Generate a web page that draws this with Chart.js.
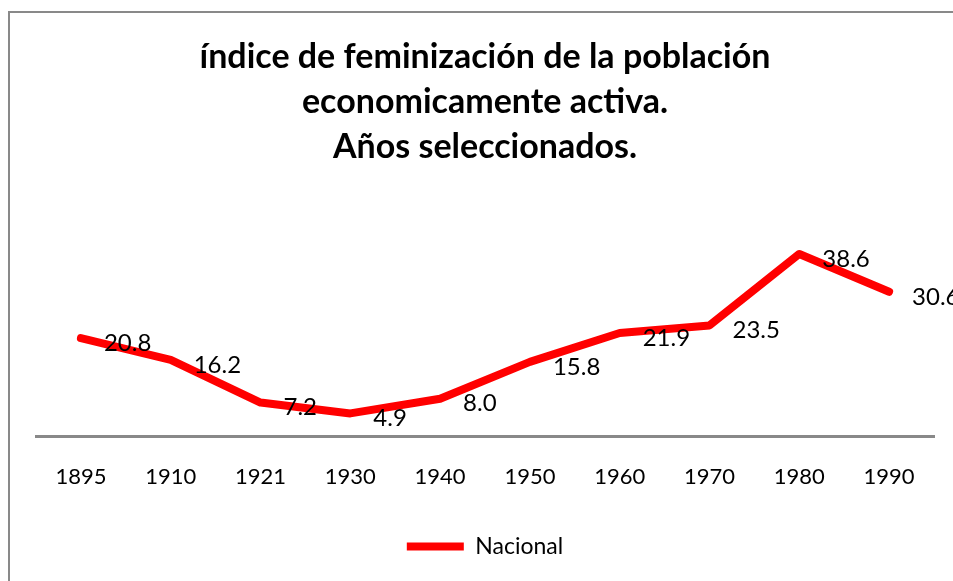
<!DOCTYPE html>
<html>
<head>
<meta charset="utf-8">
<script src="https://cdn.jsdelivr.net/npm/chart.js@4.4.1/dist/chart.umd.min.js"></script>
<style>
  html, body { margin: 0; padding: 0; background: #fff; overflow: hidden; }
  #wrap { position: relative; width: 953px; height: 581px; }
  #frame { position: absolute; left: 8px; top: 11px; width: 1000px; height: 700px; border: 2px solid #898989; box-sizing: border-box; }
  #chart { position: absolute; left: 0; top: 0; }
</style>
</head>
<body>
<div id="wrap">
  <div id="frame"></div>
  <canvas id="chart" width="953" height="581"></canvas>
</div>
<script>
const years = ['1895', '1910', '1921', '1930', '1940', '1950', '1960', '1970', '1980', '1990'];
const nacional = [20.8, 16.2, 7.2, 4.9, 8.0, 15.8, 21.9, 23.5, 38.6, 30.6];
const titleLines = ['índice de feminización de la población', 'economicamente activa.', 'Años seleccionados.'];

// labels to the right of each point, like the spreadsheet original
const valueLabels = {
    id: 'valueLabels',
    afterDatasetsDraw(chart) {
        const ctx = chart.ctx;
        const meta = chart.getDatasetMeta(0);
        ctx.save();
        ctx.font = '24px Lato';
        ctx.fillStyle = '#000';
        ctx.textAlign = 'left';
        ctx.textBaseline = 'middle';
        meta.data.forEach((pt, i) => {
            ctx.fillText(nacional[i].toFixed(1), pt.x + 23, pt.y + 5);
        });
        ctx.restore();
    }
};

new Chart(document.getElementById('chart'), {
    type: 'line',
    data: {
        labels: years,
        datasets: [{
            label: 'Nacional',
            data: nacional,
            borderColor: '#ff0000',
            backgroundColor: '#ff0000',
            borderWidth: 8,
            borderCapStyle: 'round',
            borderJoinStyle: 'round',
            pointRadius: 0,
            pointStyle: 'line',
            tension: 0
        }]
    },
    options: {
        responsive: false,
        animation: false,
        layout: { padding: { left: 36, right: 19, top: 0, bottom: 13 } },
        plugins: {
            title: {
                display: true,
                text: titleLines,
                color: '#000',
                font: { family: 'Lato', size: 34, weight: 'bold', lineHeight: 1.33 },
                padding: { top: 34, bottom: 54 }
            },
            legend: {
                position: 'bottom',
                labels: {
                    usePointStyle: true,
                    pointStyleWidth: 57,
                    color: '#000',
                    font: { family: 'Lato', size: 23 },
                    padding: 18
                }
            },
            tooltip: { enabled: false }
        },
        scales: {
            x: {
                offset: true,
                grid: { display: false, drawTicks: false },
                border: { display: true, color: '#898989', width: 3 },
                ticks: { color: '#000', font: { family: 'Lato', size: 22 }, padding: 27, maxRotation: 0 }
            },
            y: {
                display: false,
                min: 0,
                max: 45
            }
        }
    },
    plugins: [valueLabels]
});
</script>
</body>
</html>
